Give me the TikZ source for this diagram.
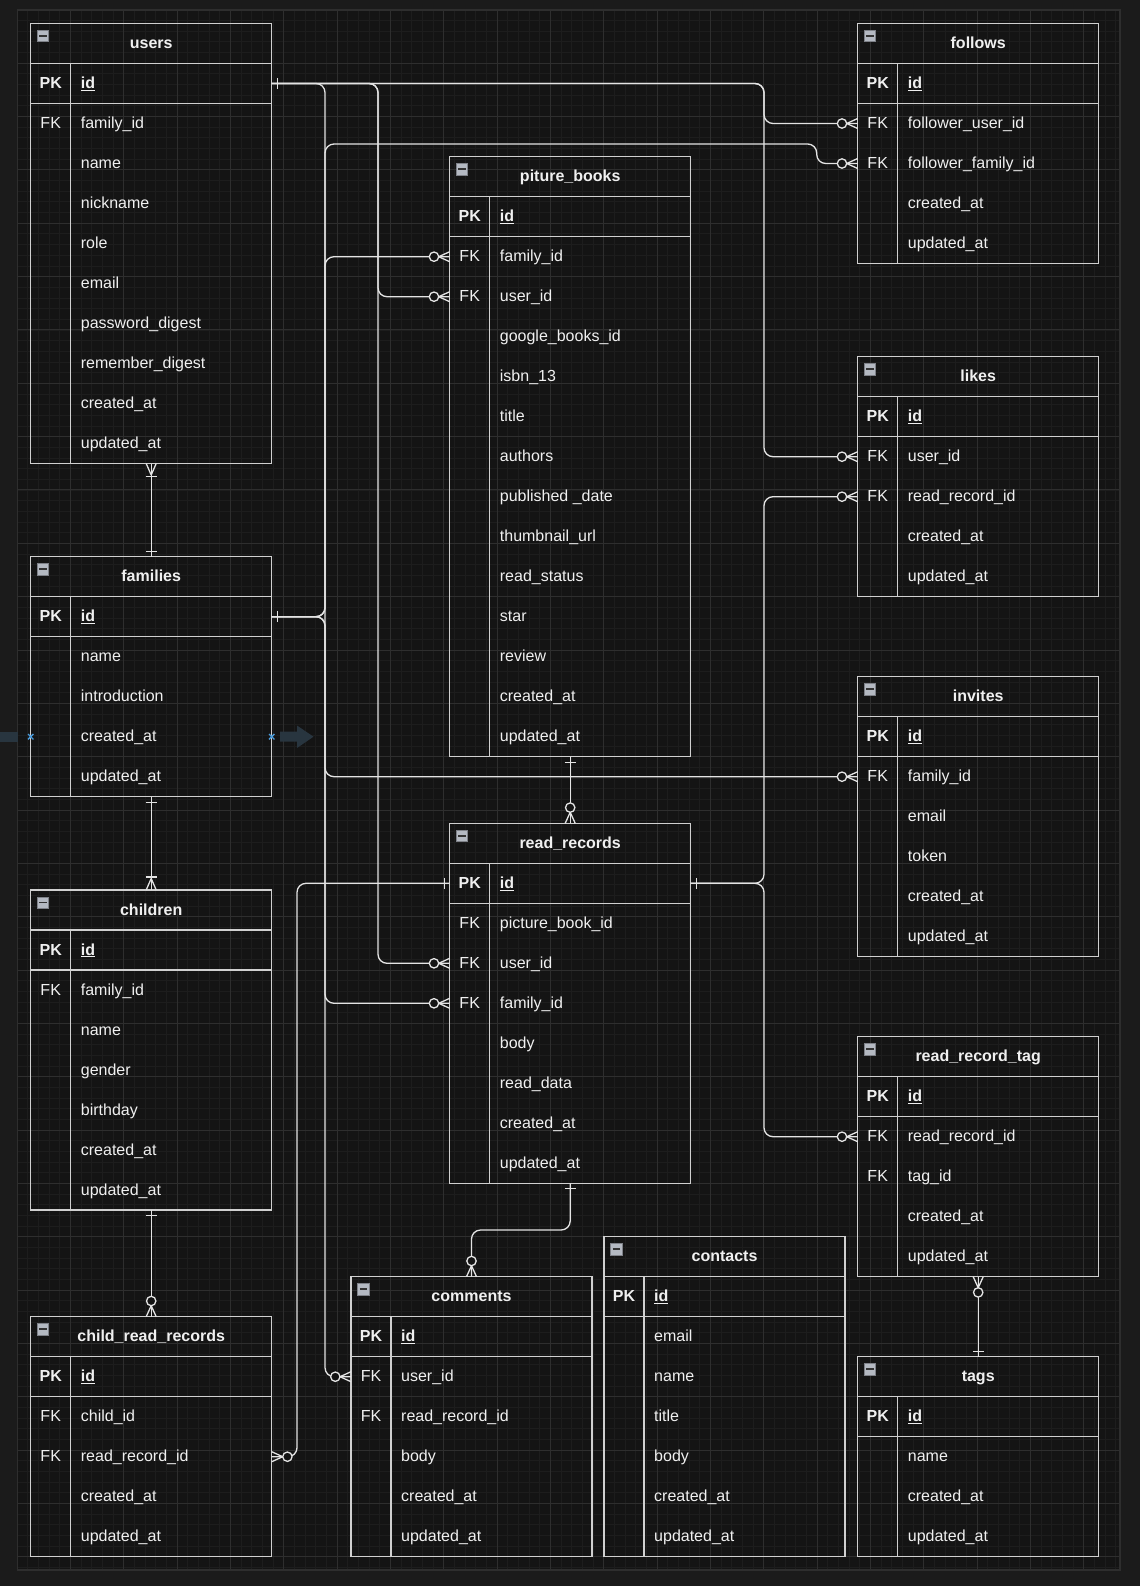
\documentclass[tikz,border=0pt]{standalone}
\usepackage{fontspec}
\setmainfont{Liberation Sans}
\usetikzlibrary{calc}
\definecolor{outerbg}{HTML}{1B1B1B}
\definecolor{gridbg}{HTML}{141414}
\definecolor{gridminor}{HTML}{1D1D1D}
\definecolor{gridmajor}{HTML}{2E2E2E}
\definecolor{tblline}{HTML}{D0D0D0}
\definecolor{txt}{HTML}{F0F0F0}
\definecolor{connc}{HTML}{E4E4E4}
\definecolor{iconc}{HTML}{B4B9C2}
\definecolor{selblue}{HTML}{4A9BDB}
\definecolor{ghost}{HTML}{28353F}
\tikzset{
  conn/.style={draw=connc, line width=1.3pt, line join=round},
  tbl/.style={draw=tblline, line width=1.3pt},
  keytxt/.style={text=txt, font=\fontsize{16}{19}\selectfont, anchor=base, inner sep=0pt},
  fldtxt/.style={text=txt, font=\fontsize{16}{19}\selectfont, anchor=base west, inner sep=0pt},
  ttltxt/.style={text=txt, font=\fontsize{16}{19}\selectfont\bfseries, anchor=base, inner sep=0pt},
  zmany/.pic={
    \draw[conn] (-11,0) -- (0,5) (-11,0) -- (0,-5);
    \draw[conn, fill=gridbg] (-15.7,0) circle[radius=4.7pt];
  },
  onebar/.pic={\draw[conn] (-5.5,-5.5) -- (-5.5,5.5);},
  onemany/.pic={
    \draw[conn] (-11.5,0) -- (0,5) (-11.5,0) -- (0,-5);
    \draw[conn] (-13,-5.5) -- (-13,5.5);
  },
}
% #1 id, #2 left, #3 top, #4 title, #5 number of rows, #6 rows after PK
\newcommand\ertable[6]{%
 \begin{scope}[shift={(#2,#3)}]
  \pgfmathsetmacro\tblh{40+40*#5}
  \draw[tbl] (0,0) rectangle (241,\tblh);
  \draw[tbl] (0,40) -- (241,40) (0,80) -- (241,80) (40,40) -- (40,\tblh);
  \draw[draw=iconc!70!black, fill=iconc, line width=0.6pt] (6.7,7) rectangle (18,18.3);
  \draw[line width=1.7pt, draw=black!80] (8.7,12.6) -- (16,12.6);
  \node[ttltxt] (#1-title) at (120.5,25) {#4};
  \node[keytxt, font=\fontsize{16}{19}\selectfont\bfseries] (#1-k1) at (20,65) {PK};
  \node[fldtxt, font=\fontsize{16}{19}\selectfont\bfseries] (#1-f1) at (50,65) {\underline{id}};
  \coordinate (#1-1-w) at (0,60);
  \coordinate (#1-1-e) at (241,60);
  \foreach \k/\f [count=\i from 2] in {#6} {
    \node[keytxt] (#1-k\i) at (20,40*\i+25) {\k};
    \node[fldtxt] (#1-f\i) at (50,40*\i+25) {\f};
    \coordinate (#1-\i-w) at (0,40*\i+20);
    \coordinate (#1-\i-e) at (241,40*\i+20);
  }
  \coordinate (#1-top) at (120.5,0);
  \coordinate (#1-bot) at (120.5,\tblh);
 \end{scope}}
\begin{document}
\begin{tikzpicture}[x=1pt,y=-1pt]
\useasboundingbox (0,0) rectangle (1140,1586);
\fill[outerbg] (0,0) rectangle (1140,1586);
\fill[gridbg] (17.3,10) rectangle (1120,1570);
\begin{scope}
 \clip (17.3,10) rectangle (1120,1570);
 \foreach \i in {0,...,103} \draw[gridminor, line width=1pt] ({17.3+10.6667*\i},10) -- ++(0,1560);
 \foreach \i in {0,...,146} \draw[gridminor, line width=1pt] (17.3,{10+10.6667*\i}) -- ++(1103,0);
 \foreach \i in {0,...,20} \draw[gridmajor, line width=1pt] ({17.3+53.333*\i},10) -- ++(0,1560);
 \foreach \i in {0,...,29} \draw[gridmajor, line width=1pt] (17.3,{10+53.333*\i}) -- ++(1103,0);
\end{scope}
\draw[gridmajor, line width=1.5pt] (17.3,10) rectangle (1120,1570);

% ghost drag arrows beside families
\fill[ghost] (0,731.7) rectangle (18,741.7);
\fill[ghost] (280,731.7) -- (297,731.7) -- (297,725.5) -- (313.5,736.7) -- (297,748) -- (297,741.7) -- (280,741.7) -- cycle;

% tables
\ertable{us}{30.7}{23.5}{users}{10}{FK/family\_id, /name, /nickname, /role, /email, /password\_digest, /remember\_digest, /created\_at, /updated\_at}
\ertable{fa}{30.7}{556.7}{families}{5}{/name, /introduction, /created\_at, /updated\_at}
\ertable{ch}{30.7}{890}{children}{7}{FK/family\_id, /name, /gender, /birthday, /created\_at, /updated\_at}
\ertable{crr}{30.7}{1316.7}{child\_read\_records}{5}{FK/child\_id, FK/read\_record\_id, /created\_at, /updated\_at}
\ertable{pb}{449.7}{156.7}{piture\_books}{14}{FK/family\_id, FK/user\_id, /google\_books\_id, /isbn\_13, /title, /authors, /published \_date, /thumbnail\_url, /read\_status, /star, /review, /created\_at, /updated\_at}
\ertable{rr}{449.7}{823.3}{read\_records}{8}{FK/picture\_book\_id, FK/user\_id, FK/family\_id, /body, /read\_data, /created\_at, /updated\_at}
\ertable{cm}{351}{1276.7}{comments}{6}{FK/user\_id, FK/read\_record\_id, /body, /created\_at, /updated\_at}
\ertable{ct}{604}{1236.7}{contacts}{7}{/email, /name, /title, /body, /created\_at, /updated\_at}
\ertable{fo}{857.7}{23.5}{follows}{5}{FK/follower\_user\_id, FK/follower\_family\_id, /created\_at, /updated\_at}
\ertable{li}{857.7}{356.7}{likes}{5}{FK/user\_id, FK/read\_record\_id, /created\_at, /updated\_at}
\ertable{iv}{857.7}{676.7}{invites}{6}{FK/family\_id, /email, /token, /created\_at, /updated\_at}
\ertable{rt}{857.7}{1036.7}{read\_record\_tag}{5}{FK/read\_record\_id, FK/tag\_id, /created\_at, /updated\_at}
\ertable{tg}{857.7}{1356.7}{tags}{4}{/name, /created\_at, /updated\_at}

% routing columns
\coordinate (busA) at (325,0);
\coordinate (busB) at (378,0);
\coordinate (busC) at (764,0);
\coordinate (busD) at (816.7,0);
\coordinate (busE) at (297,0);
\coordinate (ffy) at (0,144);
\coordinate (rcy) at (0,1230);

% connectors
\begin{scope}[rounded corners=9]
\draw[conn] (us-1-e) -- (us-1-e -| busC) -- (fo-2-w -| busC) -- (fo-2-w);
\draw[conn] (us-1-e) -- (us-1-e -| busC) -- (li-2-w -| busC) -- (li-2-w);
\draw[conn] (us-1-e) -- (us-1-e -| busB) -- (pb-3-w -| busB) -- (pb-3-w);
\draw[conn] (us-1-e) -- (us-1-e -| busB) -- (rr-3-w -| busB) -- (rr-3-w);
\draw[conn] (us-1-e) -- (us-1-e -| busA) -- (cm-2-w -| busA) -- (cm-2-w);
\draw[conn] (fa-1-e) -- (fa-1-e -| busA) -- (busA |- ffy) -- (busD |- ffy) -- (fo-3-w -| busD) -- (fo-3-w);
\draw[conn] (fa-1-e) -- (fa-1-e -| busA) -- (pb-2-w -| busA) -- (pb-2-w);
\draw[conn] (fa-1-e) -- (fa-1-e -| busA) -- (iv-2-w -| busA) -- (iv-2-w);
\draw[conn] (fa-1-e) -- (fa-1-e -| busA) -- (rr-4-w -| busA) -- (rr-4-w);
\draw[conn] (rr-1-e) -- (rr-1-e -| busC) -- (li-3-w -| busC) -- (li-3-w);
\draw[conn] (rr-1-e) -- (rr-1-e -| busC) -- (rt-2-w -| busC) -- (rt-2-w);
\draw[conn] (rr-1-w) -- (rr-1-w -| busE) -- (crr-3-e -| busE) -- (crr-3-e);
\draw[conn] (rr-bot) -- (rr-bot |- rcy) -- (cm-top |- rcy) -- (cm-top);
\end{scope}
\draw[conn] (us-bot) -- (fa-top);
\draw[conn] (fa-bot) -- (ch-top);
\draw[conn] (ch-bot) -- (crr-top);
\draw[conn] (pb-bot) -- (rr-top);
\draw[conn] (rt-bot) -- (tg-top);

% relationship marks
\pic[rotate=180] at (us-1-e) {onebar};
\pic[rotate=180] at (fa-1-e) {onebar};
\pic[rotate=180] at (rr-1-e) {onebar};
\pic at (rr-1-w) {onebar};
\pic[rotate=90] at (us-bot) {onemany};
\pic[rotate=-90] at (fa-top) {onebar};
\pic[rotate=90] at (fa-bot) {onebar};
\pic[rotate=-90] at (ch-top) {onemany};
\pic[rotate=90] at (ch-bot) {onebar};
\pic[rotate=-90] at (crr-top) {zmany};
\pic[rotate=90] at (pb-bot) {onebar};
\pic[rotate=-90] at (rr-top) {zmany};
\pic[rotate=90] at (rr-bot) {onebar};
\pic[rotate=-90] at (cm-top) {zmany};
\pic[rotate=90] at (rt-bot) {zmany};
\pic[rotate=-90] at (tg-top) {onebar};
\pic[rotate=180] at (crr-3-e) {zmany};
\pic at (fo-2-w) {zmany};
\pic at (fo-3-w) {zmany};
\pic at (pb-2-w) {zmany};
\pic at (pb-3-w) {zmany};
\pic at (li-2-w) {zmany};
\pic at (li-3-w) {zmany};
\pic at (iv-2-w) {zmany};
\pic at (rr-3-w) {zmany};
\pic at (rr-4-w) {zmany};
\pic at (cm-2-w) {zmany};
\pic at (rt-2-w) {zmany};

% selection markers on families
\foreach \mx in {30.7,271.7} {
  \draw[selblue, line width=1.3pt] (\mx-2.7,734) -- (\mx+2.7,739.4) (\mx-2.7,739.4) -- (\mx+2.7,734);
}
\end{tikzpicture}
\end{document}
